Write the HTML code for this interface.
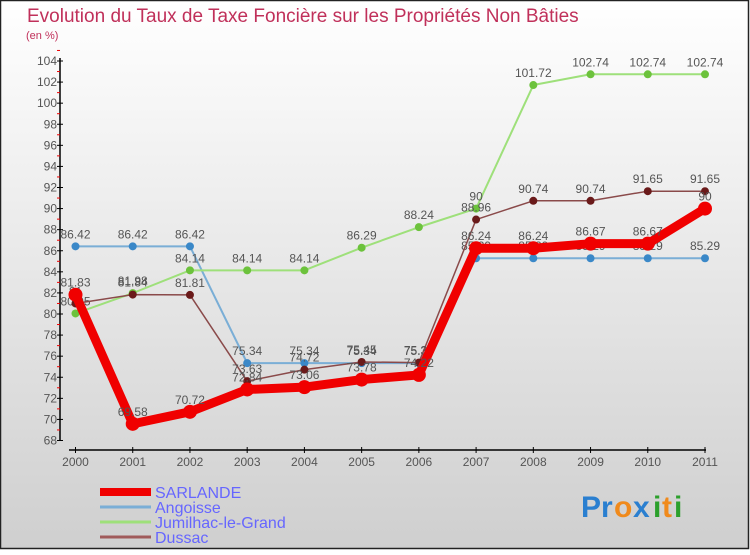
<!DOCTYPE html>
<html><head><meta charset="utf-8"><style>
html,body{margin:0;padding:0;}
body{width:750px;height:550px;overflow:hidden;font-family:"Liberation Sans",sans-serif;}
svg text{font-family:"Liberation Sans",sans-serif;}
</style></head><body>
<svg id="chart" width="750" height="550" xmlns="http://www.w3.org/2000/svg">
<defs>
<linearGradient id="bg" x1="0" y1="0" x2="0" y2="1">
<stop offset="0" stop-color="#ffffff"/><stop offset="1" stop-color="#cfcfcf"/>
</linearGradient>
</defs>
<rect x="0.5" y="0.5" width="748" height="548" fill="url(#bg)" stroke="#222" stroke-width="1.5"/>
<text x="27" y="22" font-size="19" fill="#c0305a">Evolution du Taux de Taxe Foncière sur les Propriétés Non Bâties</text>
<text x="26" y="39" font-size="11" fill="#c0305a">(en %)</text>
<g id="axes"></g>
<g id="series"></g>
<g id="legend"></g>
<g font-size="30" font-weight="bold">
<text x="581" y="517" fill="#2a7fd0">P</text><text x="601" y="517" fill="#2a7fd0">r</text>
<text x="614" y="517" fill="#f08a1c">o</text><text x="633" y="517" fill="#2a7fd0">x</text>
<text x="653" y="517" fill="#2ca02c">i</text><text x="662" y="517" fill="#f08a1c">t</text><text x="674" y="517" fill="#2ca02c">i</text>
</g>
</svg>
<script>
const years=["2000","2001","2002","2003","2004","2005","2006","2007","2008","2009","2010","2011"];
const yTicks=[68,70,72,74,76,78,80,82,84,86,88,90,92,94,96,98,100,102,104];
const sarlande=[81.83,69.58,70.72,72.84,73.06,73.78,74.22,86.24,86.24,86.67,86.67,90];
const angoisse=[86.42,86.42,86.42,75.34,75.34,75.34,75.34,85.29,85.29,85.29,85.29,85.29];
const jumilhac=[80.05,81.98,84.14,84.14,84.14,86.29,88.24,90,101.72,102.74,102.74,102.74];
const dussac=[81,81.84,81.81,73.63,74.72,75.45,75.39,88.96,90.74,90.74,91.65,91.65];
const seriesNames=["SARLANDE","Angoisse","Jumilhac-le-Grand","Dussac"];
const NS="http://www.w3.org/2000/svg";
const x=i=>75.5+i*(705-75.5)/(years.length-1);
const y=v=>440.5-(v-68)*(440.5-61)/36;
function mk(tag,attrs,parent){const e=document.createElementNS(NS,tag);for(const k in attrs)e.setAttribute(k,attrs[k]);parent.appendChild(e);return e;}
const axes=document.getElementById('axes');
const ya=mk('line',{x1:60,y1:58,x2:60,y2:441,stroke:'#000','stroke-width':1.5},axes);


yTicks.forEach(v=>{
  mk('line',{x1:57,y1:y(v),x2:63,y2:y(v),stroke:'#000'},axes);
  mk('line',{x1:57,y1:y(v+1),x2:60,y2:y(v+1),stroke:'#e00'},axes);
  const t=mk('text',{x:57,y:y(v)+4,'text-anchor':'end','font-size':12,fill:'#555'},axes);
  t.textContent=v;
  
  
});
const xa=mk('line',{x1:69,y1:450,x2:706,y2:450,stroke:'#000','stroke-width':1.5},axes);


years.forEach((yr,i)=>{
  mk('line',{x1:x(i),y1:447,x2:x(i),y2:453,stroke:'#000'},axes);
  const t=mk('text',{x:x(i),y:466,'text-anchor':'middle','font-size':12,fill:'#555'},axes);
  t.textContent=yr;
  
  
});
const sg=document.getElementById('series');
const defs=[
 {d:angoisse,c:'#7aaed6',p:'#3a88c8',w:2,r:4,n:'angoisse'},
 {d:jumilhac,c:'#9ee07a',p:'#6cc23c',w:2,r:4,n:'jumilhac-le-grand'},
 {d:dussac,c:'#8a4a4a',p:'#6a1a1a',w:1.5,r:4,n:'dussac'},
 {d:sarlande,c:'#f00000',p:'#f00000',w:9,r:7,n:'sarlande'}
];
defs.forEach(s=>{
  const g=mk('g',{},sg);
  
  
  const pl=mk('polyline',{points:s.d.map((v,i)=>x(i)+','+y(v)).join(' '),fill:'none',stroke:s.c,'stroke-width':s.w,'stroke-linejoin':'round'},g);
  
  
  s.d.forEach((v,i)=>{
    const c=mk('circle',{cx:x(i),cy:y(v),r:s.r,fill:s.p},g);
    
    
    const t=mk('text',{x:x(i),y:y(v)-8,'text-anchor':'middle','font-size':12,fill:'#555'},g);
    t.textContent=v;
    
    
  });
});
const lg=document.getElementById('legend');
const lc=['#f00000','#7aaed6','#9ee07a','#a05a5a'];const lw=[8,3,3,3];
seriesNames.forEach((n,i)=>{
  const yy=492+i*15;
  const g=mk('g',{},lg);
  
  
  mk('line',{x1:100,y1:yy,x2:151,y2:yy,stroke:lc[i],'stroke-width':lw[i]},g);
  const t=mk('text',{x:155,y:yy+6,'font-size':16,fill:'#6666ff'},g);
  t.textContent=n;
});
</script>
</body></html>
